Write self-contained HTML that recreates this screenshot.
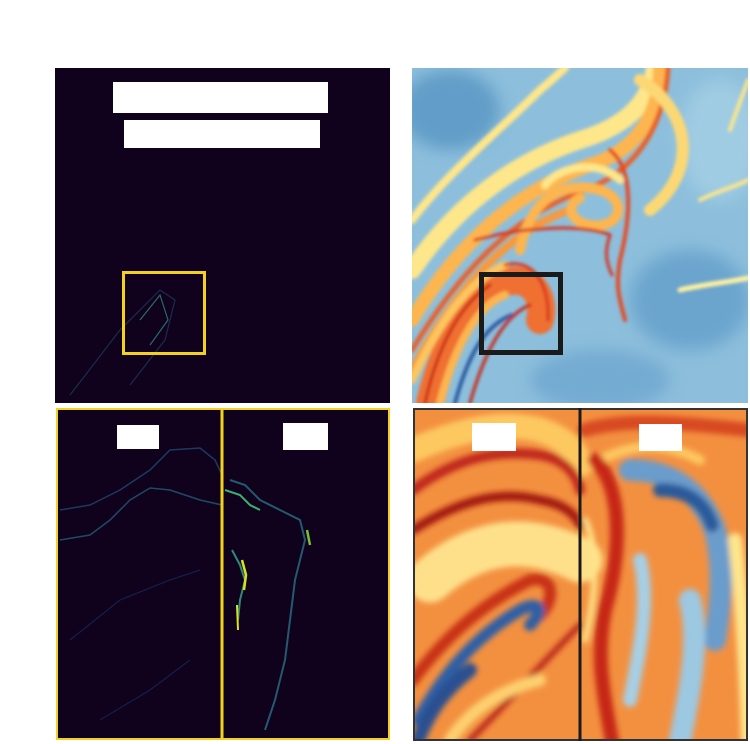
<!DOCTYPE html>
<html><head><meta charset="utf-8"><style>
html,body{margin:0;padding:0;background:#fff;width:750px;height:744px;overflow:hidden;font-family:"Liberation Sans",sans-serif}
svg{display:block}
</style></head><body>
<svg width="750" height="744" viewBox="0 0 750 744">
<defs>
<filter id="b2" x="-20%" y="-20%" width="140%" height="140%"><feGaussianBlur stdDeviation="1.5"/></filter>
<filter id="b4" x="-20%" y="-20%" width="140%" height="140%"><feGaussianBlur stdDeviation="3"/></filter>
<filter id="b8" x="-20%" y="-20%" width="140%" height="140%"><feGaussianBlur stdDeviation="8"/></filter>
<clipPath id="cTR"><rect x="412" y="68" width="336" height="335"/></clipPath>
<clipPath id="cBR"><rect x="413" y="408" width="335" height="333"/></clipPath>
<clipPath id="cBL"><rect x="56" y="408" width="334" height="332"/></clipPath>
</defs>

<rect x="125" y="12" width="120" height="30" fill="#fff"/>
<rect x="445" y="14" width="225" height="32" fill="#fff"/>

<g>
<rect x="55" y="68" width="335" height="335" fill="#10011c"/>
<path d="M70 395 L120 330 L160 290 L175 300 L165 340 L130 385" fill="none" stroke="#1d3a5a" stroke-width="1.2" opacity="0.8"/>
<path d="M140 320 L160 295 L168 320 L150 345" fill="none" stroke="#2a6a6a" stroke-width="1.2"/>
<rect x="113" y="82" width="215" height="31" fill="#fff"/>
<rect x="124" y="120" width="196" height="28" fill="#fff"/>
<rect x="123.5" y="272.5" width="81" height="81" fill="none" stroke="#f2d21e" stroke-width="3"/>
</g>

<g clip-path="url(#cTR)">
<rect x="412" y="68" width="336" height="335" fill="#8dbfdc"/>
<g filter="url(#b8)" opacity="0.7">
<ellipse cx="450" cy="110" rx="50" ry="40" fill="#4f8fc0"/>
<ellipse cx="690" cy="300" rx="60" ry="50" fill="#5d9ac8"/>
<ellipse cx="600" cy="380" rx="70" ry="30" fill="#6aa3cd"/>
<ellipse cx="720" cy="140" rx="40" ry="60" fill="#a8d2e6"/>
</g>
<g fill="none" stroke-linecap="round" filter="url(#b2)">
<path d="M412 220 C450 170 500 130 540 90 C555 78 560 72 565 68" stroke="#fee68a" stroke-width="8"/>
<path d="M412 270 C460 200 520 160 580 140 C630 125 650 100 655 68" stroke="#fee68a" stroke-width="18"/>
<path d="M412 320 C460 240 520 190 590 165 C640 150 660 110 660 68" stroke="#fdb54f" stroke-width="14"/>
<path d="M412 350 C460 270 515 215 585 190 C640 170 665 120 668 68" stroke="#e8602c" stroke-width="5"/>
<path d="M412 370 C455 290 510 230 570 210" stroke="#f59a40" stroke-width="8"/>
<path d="M520 250 C530 200 560 180 600 190 C630 200 620 230 590 225 C570 222 565 205 580 198" stroke="#fdb54f" stroke-width="10"/>
<path d="M545 185 C560 165 600 160 620 180" stroke="#fee68a" stroke-width="8"/>
<path d="M475 240 C530 225 590 225 610 235 C605 250 605 260 612 275" stroke="#d7301f" stroke-width="3"/>
<path d="M610 150 C635 170 630 220 620 260 C615 290 620 300 625 320" stroke="#e34a24" stroke-width="4"/>
<path d="M640 80 C690 110 700 170 650 210" stroke="#fcd875" stroke-width="12"/>
<path d="M680 290 C700 285 730 282 748 278" stroke="#fff3a0" stroke-width="5"/>
<path d="M700 200 C720 190 740 185 748 180" stroke="#fee68a" stroke-width="4"/>
<path d="M430 403 C445 340 470 295 505 282 C535 275 545 300 540 320" stroke="#f07030" stroke-width="28"/>
<path d="M440 403 C455 345 478 305 505 295" stroke="#fdb54f" stroke-width="8"/>
<path d="M455 403 C468 355 485 325 512 315" stroke="#2c5aa0" stroke-width="4"/>
<path d="M470 403 C485 350 505 315 530 305" stroke="#c62010" stroke-width="3"/>
<path d="M425 403 C438 345 460 305 490 285" stroke="#c62010" stroke-width="3"/>
<path d="M412 380 C440 320 470 280 505 265" stroke="#fdc55e" stroke-width="8"/>
<path d="M505 265 C530 258 550 280 548 320" stroke="#d7301f" stroke-width="3"/>
<path d="M730 130 C740 100 745 90 748 80" stroke="#fee68a" stroke-width="4"/>
</g>
<rect x="481.5" y="274.5" width="79" height="78" fill="none" stroke="#1a1a1a" stroke-width="5"/>
</g>

<g>
<rect x="56" y="408" width="334" height="332" fill="#10011c"/>
<g clip-path="url(#cBL)" fill="none">
<path d="M60 510 L90 505 L120 490 L150 470 L170 450 L200 448 L215 460 L222 475" stroke="#1b3a5e" stroke-width="1.5"/>
<path d="M60 540 L90 535 L110 520 L130 500 L150 488 L170 490 L200 500 L222 505" stroke="#1f4a66" stroke-width="1.5"/>
<path d="M70 640 L120 600 L170 580 L200 570" stroke="#14204a" stroke-width="1.2"/>
<path d="M100 720 L150 690 L190 660" stroke="#14204a" stroke-width="1.2"/>
<path d="M230 480 L245 485 L260 500 L280 510 L300 520 L305 540 L300 560 L295 580 L290 620 L285 660 L275 700 L265 730" stroke="#245a70" stroke-width="2"/>
<path d="M225 490 L240 495 L250 505 L260 510" stroke="#3ab070" stroke-width="2"/>
<path d="M232 550 L240 565 L245 580 L240 600 L238 620" stroke="#2f8a7a" stroke-width="2"/>
<path d="M242 560 L246 575 L244 590" stroke="#d8e21c" stroke-width="2.5"/>
<path d="M237 605 L238 630" stroke="#e0e020" stroke-width="2"/>
<path d="M307 530 L310 545" stroke="#7ac030" stroke-width="2.5"/>
</g>
<rect x="57" y="409" width="332" height="330" fill="none" stroke="#f2d21e" stroke-width="2"/>
<line x1="222" y1="408" x2="222" y2="740" stroke="#f2d21e" stroke-width="3"/>
<rect x="117" y="425" width="42" height="24" fill="#fff"/>
<rect x="283" y="423" width="45" height="27" fill="#fff"/>
</g>

<g>
<rect x="413" y="408" width="335" height="333" fill="#f39040"/>
<g clip-path="url(#cBR)" fill="none" stroke-linecap="round" filter="url(#b4)">
<path d="M413 450 C460 430 500 420 540 430 C570 440 578 455 580 465" stroke="#fdc860" stroke-width="25"/>
<path d="M413 490 C460 455 500 450 540 455 C570 460 578 480 580 490" stroke="#c0261a" stroke-width="10"/>
<path d="M413 530 C460 500 500 490 540 500 C570 505 578 520 580 525" stroke="#a01810" stroke-width="9"/>
<path d="M430 580 C470 545 520 530 580 560" stroke="#fee08a" stroke-width="45"/>
<path d="M413 680 C450 630 490 600 530 580 C555 575 555 600 540 615" stroke="#c83018" stroke-width="12"/>
<path d="M418 720 C440 680 470 640 520 610 C540 600 545 610 530 625" stroke="#2f5fa5" stroke-width="12"/>
<path d="M418 740 C430 710 445 690 470 670" stroke="#2a4f90" stroke-width="14"/>
<path d="M470 740 C510 700 545 660 580 625" stroke="#b8261a" stroke-width="6"/>
<path d="M450 740 C470 710 500 690 540 680" stroke="#fdd070" stroke-width="12"/>
<path d="M585 430 C620 420 660 420 748 430" stroke="#d84a20" stroke-width="14"/>
<path d="M600 460 C640 440 670 445 700 460" stroke="#fdc860" stroke-width="10"/>
<path d="M630 470 C670 470 700 490 715 530 C725 570 720 610 715 640" stroke="#6a9ccc" stroke-width="22"/>
<path d="M660 490 C690 490 705 505 712 525" stroke="#2a5a9a" stroke-width="14"/>
<path d="M595 460 C625 490 620 560 605 610 C595 660 605 700 612 741" stroke="#c62818" stroke-width="14"/>
<path d="M640 560 C650 600 640 650 630 700" stroke="#a6cfe5" stroke-width="14"/>
<path d="M690 600 C700 640 690 690 680 741" stroke="#9cc8e2" stroke-width="22"/>
<path d="M735 540 C742 600 746 680 748 741" stroke="#fee48a" stroke-width="14"/>
<path d="M585 520 C600 550 595 600 585 640" stroke="#fee48a" stroke-width="6"/>
</g>
<rect x="414" y="409" width="333" height="331" fill="none" stroke="#333" stroke-width="2"/>
<line x1="580" y1="408" x2="580" y2="741" stroke="#1a1a1a" stroke-width="3"/>
<rect x="472" y="423" width="44" height="28" fill="#fff"/>
<rect x="639" y="424" width="43" height="27" fill="#fff"/>
</g>
</svg>
</body></html>
